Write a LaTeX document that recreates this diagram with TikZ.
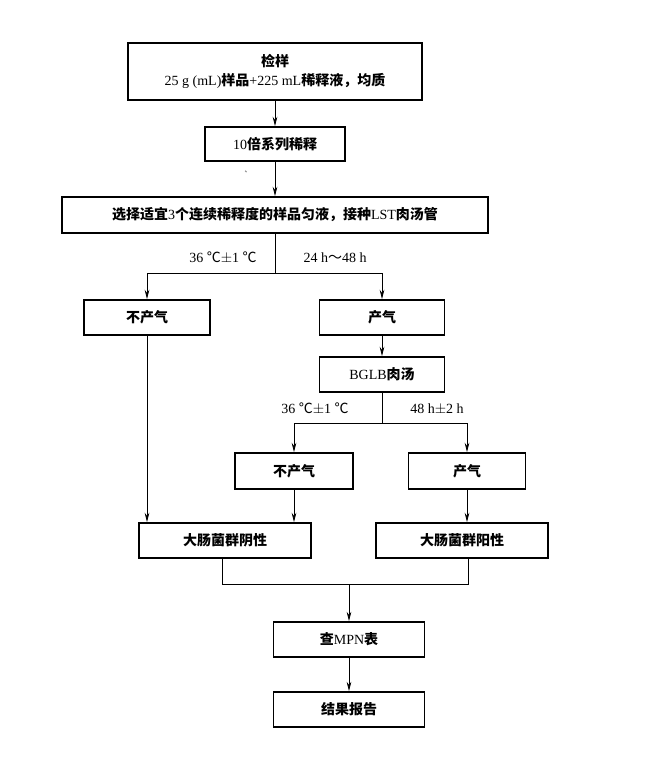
\documentclass[tikz,border=0pt]{standalone}
\usepackage{fontspec}
\setmainfont{Liberation Serif}
\newfontfamily\cjkfont{Noto Sans CJK SC}
\newcommand{\cjk}{\cjkfont\bfseries}
\usetikzlibrary{arrows.meta,positioning}

\tikzset{
  box/.style={draw, line width=1.3pt, minimum height=35*0.75pt, inner sep=2pt,
    font=\fontsize{10.5}{14}\selectfont, align=center},
  lbl/.style={font=\fontsize{10.5}{14}\selectfont, inner sep=1pt},
  arr/.style={-{Stealth[length=7pt,width=3.5pt]}, line width=0.6pt},
  ln/.style={line width=0.6pt}
}

\begin{document}
\begin{tikzpicture}[x=0.75pt, y=-0.75pt]
	  \useasboundingbox (0,0) rectangle (670,764);

	  \node[box, minimum width=294*0.75pt, minimum height=57*0.75pt] (sample) at (275,71.5)
	    {{\cjk 检样}\\25 g (mL){\cjk 样品}+225 mL{\cjk 稀释液，均质}};
	  \node[box, minimum width=140*0.75pt, minimum height=34*0.75pt] (dilute) at (275,144) {10{\cjk 倍系列稀释}};
	  \node[box, minimum width=426*0.75pt, minimum height=36*0.75pt] (inoc) at (275,215)
	    {{\cjk 选择适宜}3{\cjk 个连续稀释度的样品匀液，接种}LST{\cjk 肉汤管}};
	  \node[lbl, font=\tiny, text=gray] (dot) at (248,172) {\cjk 、};

	  \node[box, minimum width=126*0.75pt] (nogas) at (147,317.5) {\cjk 不产气};
	  \node[box, minimum width=125*0.75pt] (gas) at (382,317.5) {\cjk 产气};
	  \node[box, minimum width=125*0.75pt] (bglb) at (382,374.5) {BGLB{\cjk 肉汤}};

	  \node[box, minimum width=118*0.75pt, minimum height=36*0.75pt] (nogasb) at (294,471) {\cjk 不产气};
	  \node[box, minimum width=117*0.75pt, minimum height=36*0.75pt] (gasb) at (467,471) {\cjk 产气};

	  \node[box, minimum width=172*0.75pt] (neg) at (225,540.5) {\cjk 大肠菌群阴性};
	  \node[box, minimum width=172*0.75pt] (pos) at (462,540.5) {\cjk 大肠菌群阳性};

	  \node[box, minimum width=151*0.75pt] (mpn) at (349,639.5) {{\cjk 查}MPN{\cjk 表}};
	  \node[box, minimum width=151*0.75pt] (report) at (349,709.5) {\cjk 结果报告};

	  % incubation labels
	  \node[lbl] (temp1) at (223,258) {36 {\cjkfont ℃}$\pm$1 {\cjkfont ℃}};
	  \node[lbl] (time1) at (335,258) {24 h{\cjkfont ～}48 h};
	  \node[lbl] (temp2) at (315,409) {36 {\cjkfont ℃}$\pm$1 {\cjkfont ℃}};
	  \node[lbl] (time2) at (437,409) {48 h$\pm$2 h};

	  \coordinate (split1) at (275,273);
	  \coordinate (split2) at (382,423);
	  \coordinate (merge) at (349,584);

	  \draw[arr] (sample) -- (dilute);
	  \draw[arr] (dilute) -- (inoc);
	  \draw[ln] (inoc) -- (split1);
	  \draw[arr] (split1) -| (nogas);
	  \draw[arr] (split1) -| (gas);
	  \draw[arr] (gas) -- (bglb);
	  \draw[ln] (bglb) -- (split2);
	  \draw[arr] (split2) -| (nogasb);
	  \draw[arr] (split2) -| (gasb);
	  \draw[arr] (nogas) -- (nogas.south |- neg.north);
	  \draw[arr] (nogasb) -- (nogasb.south |- neg.north);
	  \draw[arr] (gasb) -- (gasb.south |- pos.north);
	  \draw[ln] ([xshift=-3*0.75pt]neg.south) |- (merge);
	  \draw[ln] ([xshift=6*0.75pt]pos.south) |- (merge);
	  \draw[arr] (merge) -- (mpn);
	  \draw[arr] (mpn) -- (report);

\end{tikzpicture}
\end{document}
